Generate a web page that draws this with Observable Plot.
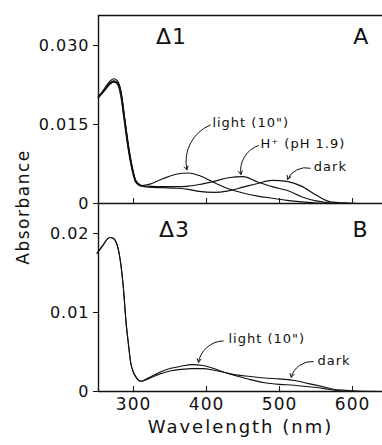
<!DOCTYPE html>
<html><head><meta charset="utf-8">
<script src="https://cdn.jsdelivr.net/npm/d3@7"></script>
<script src="https://cdn.jsdelivr.net/npm/@observablehq/plot@0.6"></script>
<style>
body{margin:0;background:#fff;}
#wrap{position:relative;width:382px;height:445px;font-family:"DejaVu Sans",sans-serif;color:#111;}
#wrap svg{display:block;overflow:visible;}
#wrap svg text{letter-spacing:1px;}
#wrap svg text.wide{letter-spacing:2px;}
#ylab{position:absolute;left:23px;top:207px;transform:translate(-50%,-50%) rotate(-90deg);font-size:17px;letter-spacing:1.5px;white-space:nowrap;}
</style></head>
<body><div id="wrap"><div id="a"></div><div id="b"></div><div id="ylab">Absorbance</div></div>
<script>
// ---- Panel A (Δ1) ----
const wlA    = [252, 260, 268, 273, 278, 283, 288, 293, 298, 303, 310, 320, 340, 360, 375, 390, 410, 430, 450, 470, 490, 510, 530, 550, 570, 590, 610, 640];
const lightA = [0.0202, 0.0218, 0.0233, 0.0237, 0.0233, 0.0212, 0.0160, 0.0110, 0.0070, 0.0043, 0.0034, 0.0036, 0.0047, 0.0056, 0.0058, 0.0053, 0.0040, 0.0028, 0.0020, 0.0014, 0.0010, 0.0006, 0.0003, 0.0001, 0, 0, 0, 0];
const hplusA = [0.0202, 0.0216, 0.0230, 0.0233, 0.0229, 0.0207, 0.0157, 0.0106, 0.0068, 0.0042, 0.0034, 0.0033, 0.0032, 0.0032, 0.0033, 0.0036, 0.0042, 0.0049, 0.0051, 0.0041, 0.0032, 0.0025, 0.0013, 0.0005, 0.0001, 0, 0, 0];
const darkA  = [0.0202, 0.0215, 0.0228, 0.0231, 0.0228, 0.0205, 0.0155, 0.0105, 0.0067, 0.0042, 0.0034, 0.0031, 0.0030, 0.0029, 0.0027, 0.0023, 0.0021, 0.0024, 0.0031, 0.0038, 0.0044, 0.0042, 0.0033, 0.0016, 0.0003, 0.0001, 0, 0];

// ---- Panel B (Δ3) ----
const wlB    = [250, 258, 264, 268, 272, 278, 283, 286, 290, 293, 296, 300, 305, 310, 320, 335, 350, 365, 380, 395, 410, 425, 440, 460, 480, 500, 520, 540, 560, 580, 600, 640];
const lightB = [0.0175, 0.0185, 0.0193, 0.0195, 0.0194, 0.0184, 0.0158, 0.0132, 0.0085, 0.0060, 0.0037, 0.0024, 0.0016, 0.0013, 0.0017, 0.0024, 0.0029, 0.0032, 0.0034, 0.0033, 0.0029, 0.0024, 0.0020, 0.0015, 0.0011, 0.0009, 0.0008, 0.0006, 0.0004, 0.0001, 0, 0];
const darkB  = [0.0175, 0.0185, 0.0193, 0.0195, 0.0194, 0.0184, 0.0158, 0.0132, 0.0085, 0.0060, 0.0037, 0.0024, 0.0016, 0.0013, 0.0016, 0.0022, 0.0026, 0.0028, 0.0029, 0.0029, 0.0027, 0.0024, 0.0021, 0.0019, 0.0017, 0.0016, 0.0014, 0.0010, 0.0006, 0.0002, 0.0001, 0];

// ---- axes ----
const xDomain = [252, 641];
const xTicks = [300, 400, 500, 600];
const xTickLabels = ["300", "400", "500", "600"];
const xLabel = "Wavelength (nm)";
const yLabel = "Absorbance";
const yDomainA = [0, 0.0357];
const yTicksA = [0, 0.015, 0.030];
const yTickLabelsA = ["0", "0.015", "0.030"];
const yDomainB = [0, 0.0238];
const yTicksB = [0, 0.01, 0.02];
const yTickLabelsB = ["0", "0.01", "0.02"];
const uvEdge = 310; // end of the heavy UV trace in panel A

// ---- annotations ----
const panelLabelsA = [{x: 352, y: 0.0317, t: "Δ1"}, {x: 612, y: 0.0317, t: "A"}];
const panelLabelsB = [{x: 356, y: 0.0205, t: "Δ3"}, {x: 611, y: 0.0205, t: "B"}];
const notesA = [
  {x: 408, y: 0.0154, t: "light (10\")"},
  {x: 474, y: 0.0114, t: "H⁺ (pH 1.9)"},
  {x: 547, y: 0.0070, t: "dark"}
];
const arrowsA = [
  {x1: 405, y1: 0.0149, x2: 373, y2: 0.0064},
  {x1: 471, y1: 0.0110, x2: 447, y2: 0.0055},
  {x1: 542, y1: 0.0067, x2: 511, y2: 0.0046}
];
const notesB = [
  {x: 430, y: 0.00667, t: "light (10\")"},
  {x: 552, y: 0.00389, t: "dark"}
];
const arrowsB = [
  {x1: 423, y1: 0.0064, x2: 389, y2: 0.0037},
  {x1: 546, y1: 0.0038, x2: 516, y2: 0.0018}
];

const toRows = (wl, vals) => wl.map((w, i) => ({wl: w, value: vals[i]}));
const ink = "#111";

const common = {
  width: 382, marginLeft: 98, marginRight: 0,
  style: {fontFamily: "DejaVu Sans, sans-serif", fontSize: "15px", color: ink, background: "transparent", overflow: "visible"},
  x: {domain: xDomain}
};

const lineOpts = (w) => ({x: "wl", y: "value", stroke: ink, strokeWidth: w, curve: "monotone-x"});
const darkRowsA = toRows(wlA, darkA);

const plotA = Plot.plot({
  ...common,
  height: 203, marginTop: 15, marginBottom: 0,
  y: {domain: yDomainA},
  marks: [
    Plot.ruleY([yDomainA[1]], {stroke: ink, strokeWidth: 1.4}),
    Plot.ruleY([0], {stroke: ink, strokeWidth: 1.4}),
    Plot.ruleX([xDomain[0]], {stroke: ink, strokeWidth: 1.4}),
    Plot.axisY(yTicksA, {tickSize: 5, tickPadding: 4, tickFormat: (d, i) => yTickLabelsA[i], label: null, fontSize: 16}),
    Plot.axisX(xTicks, {anchor: "bottom", tickSize: -5, tickFormat: () => "", label: null}),
    Plot.line(toRows(wlA, lightA), lineOpts(1.1)),
    Plot.line(toRows(wlA, hplusA), lineOpts(1.1)),
    Plot.line(darkRowsA, lineOpts(1.2)),
    Plot.line(darkRowsA.filter(d => d.wl <= uvEdge), lineOpts(2)),
    Plot.text(panelLabelsA, {x: "x", y: "y", text: "t", fontSize: 22, fill: ink}),
    Plot.text(notesA, {x: "x", y: "y", text: "t", textAnchor: "start", fontSize: 13, fill: ink}),
    Plot.arrow(arrowsA, {x1: "x1", y1: "y1", x2: "x2", y2: "y2", bend: -40, headLength: 6, stroke: ink, strokeWidth: 1})
  ]
});

const plotB = Plot.plot({
  ...common,
  height: 242, marginTop: 0, marginBottom: 54,
  y: {domain: yDomainB},
  marks: [
    Plot.ruleY([0], {stroke: ink, strokeWidth: 1.4}),
    Plot.ruleX([xDomain[0]], {stroke: ink, strokeWidth: 1.4}),
    Plot.axisY(yTicksB, {tickSize: 5, tickPadding: 4, tickFormat: (d, i) => yTickLabelsB[i], label: null, fontSize: 16}),
    Plot.axisX(xTicks, {anchor: "bottom", tickSize: -5, tickPadding: 11, tickFormat: (d, i) => xTickLabels[i], label: null, fontSize: 17}),
    Plot.text([xLabel], {frameAnchor: "bottom", dy: 41, text: d => d, fontSize: 18, fill: ink}),
    Plot.line(toRows(wlB, lightB), lineOpts(1.1)),
    Plot.line(toRows(wlB, darkB), lineOpts(1.1)),
    Plot.text(panelLabelsB, {x: "x", y: "y", text: "t", fontSize: 22, fill: ink}),
    Plot.text(notesB, {x: "x", y: "y", text: "t", textAnchor: "start", fontSize: 13, fill: ink}),
    Plot.arrow(arrowsB, {x1: "x1", y1: "y1", x2: "x2", y2: "y2", bend: -40, headLength: 6, stroke: ink, strokeWidth: 1})
  ]
});

document.getElementById("a").append(plotA);
document.getElementById("b").append(plotB);
// widen the axis title's letter spacing like the original lettering
d3.select(plotB).selectAll("text").filter(function() { return this.textContent === xLabel; }).classed("wide", true);
document.getElementById("ylab").textContent = yLabel;
</script>
</body></html>
